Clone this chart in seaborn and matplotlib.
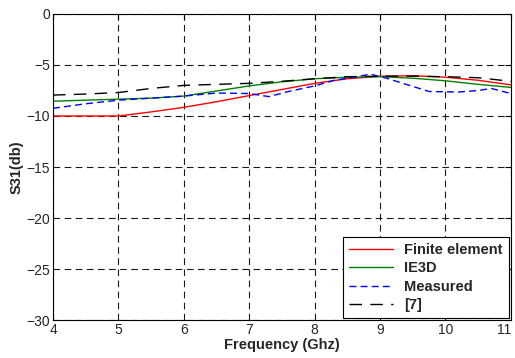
import matplotlib
matplotlib.use("Agg")
import matplotlib.pyplot as plt
import pandas as pd
import seaborn as sns

freq = [4, 4.5, 5, 5.5, 6, 6.5, 7, 7.5, 8, 8.5, 9, 9.5, 10, 10.5, 11]
finite_element = [-10, -10, -10, -9.6, -9.15, -8.6, -8.0, -7.4, -6.8, -6.35, -6.1, -6.05, -6.2, -6.5, -6.95]
ie3d = [-8.55, -8.45, -8.35, -8.25, -8.05, -7.55, -7.05, -6.65, -6.35, -6.2, -6.15, -6.3, -6.55, -6.9, -7.2]
ref7 = [-7.95, -7.85, -7.7, -7.3, -7.0, -6.9, -6.8, -6.6, -6.35, -6.15, -6.1, -6.1, -6.15, -6.25, -6.6]

meas_freq = [4, 4.5, 5, 5.5, 6, 6.5, 7, 7.3, 7.6, 8, 8.3, 8.6, 8.85, 9.1, 9.45, 9.75, 10.2, 10.5, 10.7, 11]
measured = [-9.25, -8.8, -8.45, -8.25, -8.05, -7.75, -7.8, -8.1, -7.6, -7.05, -6.5, -6.2, -5.9, -6.3, -7.0, -7.6, -7.65, -7.5, -7.3, -7.8]

df = pd.DataFrame({'Frequency': freq, 'Finite element': finite_element, 'IE3D': ie3d, '[7]': ref7})
df_meas = pd.DataFrame({'Frequency': meas_freq, 'Measured': measured})

sns.set_style("white")
plt.rcParams['font.family'] = ['Liberation Sans', 'DejaVu Sans']

fig = plt.figure(figsize=(5.15, 3.58), dpi=100)
ax = fig.add_axes([0.103, 0.106, 0.889, 0.855])

sns.lineplot(data=df, x='Frequency', y='Finite element', color='#ff0000', lw=1, label='Finite element', ax=ax)
sns.lineplot(data=df, x='Frequency', y='IE3D', color='#008000', lw=1, label='IE3D', ax=ax)
sns.lineplot(data=df_meas, x='Frequency', y='Measured', color='#0000ff', lw=1, label='Measured', ax=ax)
sns.lineplot(data=df, x='Frequency', y='[7]', color='black', lw=1, label='[7]', ax=ax)
ax.lines[2].set_dashes([5, 3])
ax.lines[3].set_dashes([9, 6])

ax.set_xlim(4, 11)
ax.set_ylim(-30, 0)
ax.set_xticks(range(4, 12))
ax.set_yticks(range(-30, 1, 5))
ax.grid(True, color='black', linestyle=(0, (6, 4)), lw=0.8, alpha=0.9)
ax.tick_params(direction='in', top=True, right=True, labelsize=10, length=4, width=0.8, color='black', pad=2)
ax.get_xticklabels()[-1].set_horizontalalignment('right')
for s in ax.spines.values():
    s.set_color('black')
    s.set_linewidth(0.8)

ax.set_xlabel('Frequency (Ghz)', fontsize=10.5, fontweight='bold', labelpad=1)
ax.set_ylabel('S31(db)', fontsize=10.5, fontweight='bold', labelpad=2)

leg = ax.legend(loc='lower right', fancybox=False, edgecolor='black', framealpha=1,
                prop={'weight': 'bold', 'size': 10.5}, handlelength=3.0, borderaxespad=0.15,
                labelspacing=0.3, borderpad=0.4)
leg.get_frame().set_linewidth(0.8)

fig.savefig('out.png', dpi=100)
